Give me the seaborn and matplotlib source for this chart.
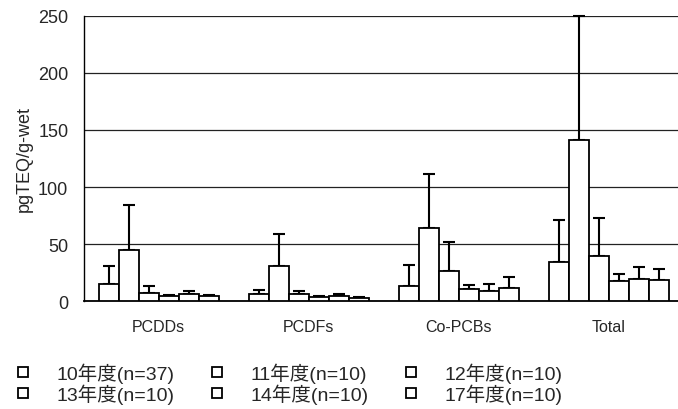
#!/usr/bin/env python3
"""
Dioxin levels (pgTEQ/g-wet) by survey year, grouped bar chart with SD bars
"""

import pandas as pd
import numpy as np
import matplotlib
matplotlib.use('Agg')
import matplotlib.pyplot as plt
from matplotlib.lines import Line2D
import seaborn as sns

# Categories and series
components = ['PCDDs', 'PCDFs', 'Co-PCBs', 'Total']
years = ['10年度(n=37)', '11年度(n=10)', '12年度(n=10)',
         '13年度(n=10)', '14年度(n=10)', '17年度(n=10)']

# Mean values per component (one value per year, same order as years)
pcdds_mean = [14.9, 45.2, 7.4, 4.9, 6.4, 4.4]
pcdfs_mean = [6.4, 31.2, 6.4, 3.5, 4.9, 3.0]
copcbs_mean = [13.8, 64.1, 26.4, 10.6, 8.9, 11.7]
total_mean = [34.4, 140.9, 39.4, 18.0, 19.2, 18.6]

# Standard deviations (upper error bars only)
pcdds_sd = [15.7, 39.1, 6.0, 0.9, 2.9, 1.1]
pcdfs_sd = [3.5, 27.7, 2.4, 1.1, 1.5, 1.0]
copcbs_sd = [18.0, 47.3, 25.8, 3.6, 6.4, 9.3]
total_sd = [36.5, 109.1, 33.5, 5.6, 11.1, 9.7]

y_ticks = [0, 50, 100, 150, 200, 250]


def build_frame():
    """Long-form table for seaborn"""
    means = [pcdds_mean, pcdfs_mean, copcbs_mean, total_mean]
    sds = [pcdds_sd, pcdfs_sd, copcbs_sd, total_sd]
    rows = []
    for comp, m, s in zip(components, means, sds):
        for year, v, e in zip(years, m, s):
            rows.append({'component': comp, 'year': year, 'value': v, 'sd': e})
    return pd.DataFrame(rows)


def main():
    sns.set_style('white')
    plt.rcParams['font.family'] = ['Liberation Sans', 'Noto Sans CJK JP']

    df = build_frame()

    fig = plt.figure(figsize=(6.78, 4.10), dpi=100)
    ax = fig.add_axes([0.1232, 0.2627, 0.885, 0.6966])

    sns.barplot(data=df, x='component', y='value', hue='year',
                order=components, hue_order=years,
                palette=['white'] * len(years), saturation=1,
                edgecolor='black', linewidth=1.3, errorbar=None,
                legend=False, ax=ax, zorder=3)

    # Upper error bars, placed on the bars seaborn drew
    for container, year in zip(ax.containers, years):
        sub = df[df['year'] == year].set_index('component').loc[components]
        xs = [p.get_x() + p.get_width() / 2 for p in container.patches]
        ax.errorbar(xs, sub['value'].values,
                    yerr=[np.zeros(len(xs)), sub['sd'].values],
                    fmt='none', ecolor='black', elinewidth=1.5,
                    capsize=4, capthick=1.5, zorder=2, clip_on=False)

    # Axes styling
    ax.set_xlim(-0.5, len(components) - 0.5)
    ax.set_ylim(0, 250)
    ax.set_yticks(y_ticks)
    ax.grid(axis='y', color='#222222', linewidth=0.9)
    ax.set_axisbelow(True)
    for side in ['top', 'right']:
        ax.spines[side].set_visible(False)
    ax.spines['left'].set_color('black')
    ax.spines['left'].set_linewidth(1.0)
    ax.spines['bottom'].set_color('black')
    ax.spines['bottom'].set_linewidth(1.3)
    ax.tick_params(axis='y', length=0, pad=11, labelsize=13)
    ax.tick_params(axis='x', length=0, pad=13, labelsize=11.5)
    ax.set_xlabel('')
    ax.set_ylabel('pgTEQ/g-wet', fontsize=13, labelpad=4)

    # Legend below the plot: rows 10,11,12 / 13,14,17
    handles = [Line2D([], [], marker='s', linestyle='none', markersize=7,
                      markerfacecolor='white', markeredgecolor='black',
                      markeredgewidth=1.3) for _ in years]
    order = [0, 3, 1, 4, 2, 5]
    fig.legend([handles[i] for i in order], [years[i] for i in order],
               ncol=3, loc='upper left', bbox_to_anchor=(0.02, 0.113),
               frameon=False, fontsize=14, handlelength=1.0,
               handletextpad=1.2, columnspacing=1.7, labelspacing=0.0,
               borderpad=0, borderaxespad=0)

    fig.savefig('out.png', dpi=100)
    plt.close(fig)


if __name__ == "__main__":
    main()
